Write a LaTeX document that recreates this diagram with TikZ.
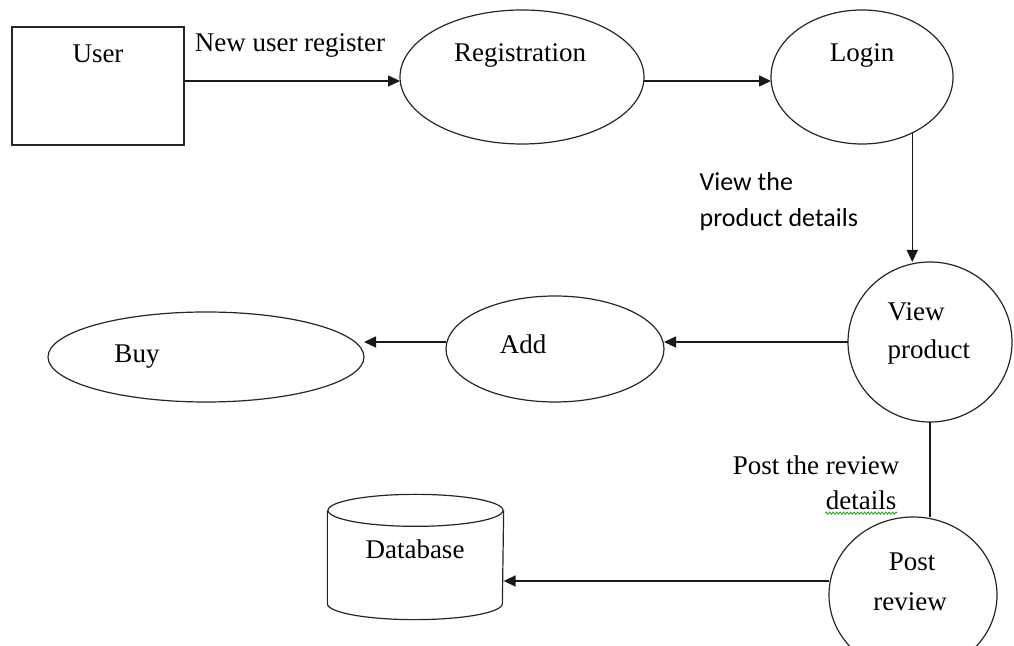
\documentclass[tikz,border=0pt]{standalone}
\usepackage{fontspec}
\setmainfont{Liberation Serif}
\newfontfamily\calib{Carlito}
\usetikzlibrary{shapes.geometric,arrows.meta,decorations.pathmorphing}
\begin{document}
\begin{tikzpicture}[x=1pt,y=1pt,
  line width=1.3pt,
  shapebox/.style={draw=black!85, line width=1.2pt, inner sep=0pt, outer sep=0pt},
  ell/.style={shapebox, ellipse},
  txt/.style={font=\fontsize{27}{31}\selectfont, inner sep=0pt},
  sanstxt/.style={font=\calib\fontsize{26}{38}\selectfont, inner sep=0pt, align=left},
  arr/.style={draw=black!90, line width=1.5pt, -{Triangle[length=12pt,width=11pt]}},
  plain/.style={draw=black!90, line width=1.5pt}
]
\useasboundingbox (0,0) rectangle (1014,645);
% shapes
\node[shapebox, rectangle, minimum width=172pt, minimum height=118pt] (user) at (98,559) {};
\node[ell, minimum width=244pt, minimum height=134pt] (reg) at (522,568) {};
\node[ell, minimum width=182pt, minimum height=134pt] (login) at (862,568) {};
\node[ell, minimum width=164pt, minimum height=160pt] (view) at (930,303) {};
\node[ell, minimum width=218pt, minimum height=106pt] (add) at (555,296) {};
\node[ell, minimum width=316pt, minimum height=90pt] (buy) at (206,288) {};
\node[ell, minimum width=168pt, minimum height=156pt] (post) at (913,50) {};
% database cylinder
\node[inner sep=0pt, minimum width=175pt, minimum height=92pt] (db) at (415.5,88) {};
\draw[shapebox] (db.north west) -- (db.south west)
  arc[start angle=180, end angle=360, x radius=87.5pt, y radius=16pt]
  -- (db.north east);
\draw[shapebox] (db.north) ellipse[x radius=87.5pt, y radius=16pt];
% texts
\node[txt] (tuser) at (98,591) {User};
\node[txt] (tnew) at (290,600) {New user register};
\node[txt] (treg) at (520,590) {Registration};
\node[txt] (tlogin) at (862,590) {Login};
\node[sanstxt, anchor=west] (tvd1) at (699,463) {View the};
\node[sanstxt, anchor=west] (tvd2) at (699,425) {product details};
\node[txt, anchor=west] (tview1) at (887,333) {View};
\node[txt, anchor=west] (tview2) at (887,293) {product};
\node[txt] (tadd) at (523,301) {Add};
\node[txt] (tbuy) at (137,288) {Buy};
\node[txt] (tdb) at (415,96) {Database};
\node[txt] (tpost1) at (912,83) {Post};
\node[txt] (tpost2) at (910,43) {review};
\node[txt] (tptr) at (816,180) {Post the review};
\node[txt, anchor=east] (tdet) at (897,145) {details};
\draw[green!60!black, line width=0.7pt, decorate,
  decoration={zigzag, segment length=3.5pt, amplitude=1.2pt}]
  ([yshift=-3pt]tdet.south west) -- ([yshift=-3pt]tdet.south east);
% connectors
\draw[arr] ([yshift=5pt]user.east) -- ([yshift=5pt]user.east -| reg.west);
\draw[arr] ([yshift=-4pt]reg.east) -- ([yshift=-4pt]reg.east -| login.west);
\draw[arr] (login.312) -- (login.312 |- view.north);
\draw[arr] (view.west) -- (view.west -| add.east);
\draw[arr] (view.west -| add.west) -- (view.west -| buy.east);
\draw[plain] (view.south) -- (view.south |- post.north);
\draw[arr] ([yshift=14pt]post.west) -- ([yshift=14pt]post.west -| db.east);
\end{tikzpicture}
\end{document}
